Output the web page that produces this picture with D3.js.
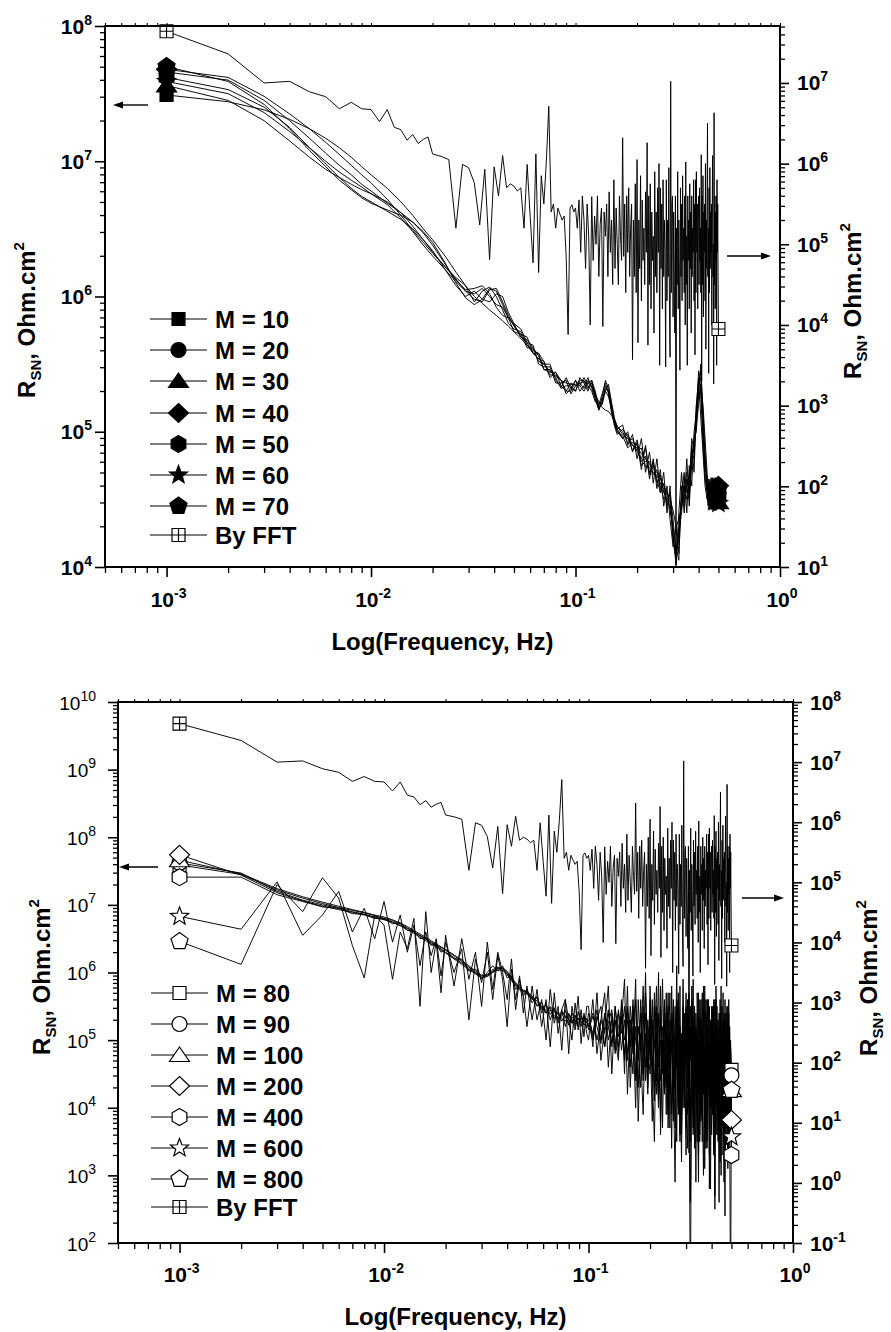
<!DOCTYPE html>
<html>
<head>
<meta charset="utf-8">
<script src="https://cdn.jsdelivr.net/npm/d3@7"></script>
<style>
  body { margin: 0; background: #fff; }
  svg { display: block; }
  text { font-family: "Liberation Sans", Arial, Helvetica, sans-serif; fill: #000; }
</style>
</head>
<body>
<svg id="chart" width="891" height="1332"></svg>
<script>
// frequencies in mHz, resistances given as log10(R_SN in Ohm.cm2)

// ---- upper panel (M = 10 ... 70) ----
var topK = [1,2,3,4,5,6,7,8,9,10,
  12,14,16,18,20,23,26,29,32,35,
  38,41,44,47,50,54,58,62,66,70,
  75,80,85,90,95,100,105,110,115,120,
  125,130,135,140,145,150,155,160,170,180,
  190,200,210,220,230,240,250,260,270,280,
  290,300,310,320,330,340,350,360,370,380,
  390,400,410,420,430,440,445,450,455,460,
  465,470,475,480,485,490,495,500];

var topM10 = [7.49,7.44,7.38,7.31,7.24,7.17,7.1,7.03,6.96,6.9,6.8,6.7,6.6,6.5,6.42,6.3,6.18,6.08,
  6.0,5.95,5.9,5.86,5.82,5.78,5.74,5.69,5.64,5.58,5.54,5.5,5.45,5.41,5.38,5.36,5.35,5.35,5.36,5.37,5.36,5.33,5.28,5.22,5.18,5.16,5.15,5.12,5.08,5.04,
  4.98,4.95,4.9,4.88,4.84,4.8,4.76,4.72,4.7,4.65,4.6,4.55,4.5,4.42,4.3,4.35,4.45,4.52,4.6,4.68,4.8,4.92,5.05,5.2,5.35,5.2,4.95,4.7,
  4.55,4.62,4.48,4.6,4.45,4.58,4.5,4.62,4.42,4.55,4.6,4.5];
var topM20 = [7.66,7.6,7.45,7.3,7.17,7.06,6.97,6.9,6.83,6.78,6.69,6.62,6.55,6.47,6.38,6.24,6.12,6.05,
  6.06,6.08,6.02,5.92,5.86,5.84,5.79,5.7,5.68,5.62,5.52,5.5,5.5,5.38,5.33,5.4,5.32,5.3,5.4,5.36,5.3,5.38,5.3,5.16,5.22,5.34,5.3,5.2,5.08,5.02,
  5.05,4.9,4.98,4.8,4.95,4.7,4.85,4.62,4.8,4.55,4.7,4.4,4.6,4.2,4.05,4.4,4.7,4.45,4.8,4.5,4.9,4.7,5.2,5.4,5.1,4.85,4.6,4.5,
  4.62,4.5,4.64,4.45,4.6,4.48,4.65,4.42,4.58,4.5,4.62,4.55];
var topM30 = [7.56,7.45,7.3,7.15,7.03,6.94,6.88,6.83,6.79,6.76,6.7,6.62,6.52,6.42,6.33,6.22,6.14,6.08,
  5.96,6.04,6.07,6.0,5.9,5.8,5.76,5.74,5.64,5.6,5.58,5.46,5.44,5.44,5.34,5.3,5.36,5.34,5.34,5.4,5.34,5.3,5.22,5.2,5.28,5.36,5.28,5.14,5.06,5.0,
  4.95,5.0,4.85,4.92,4.72,4.9,4.65,4.8,4.58,4.72,4.45,4.6,4.35,4.15,4.3,4.1,4.55,4.7,4.4,4.75,4.6,5.0,5.15,5.45,5.3,5.0,4.7,4.55,
  4.45,4.6,4.5,4.66,4.42,4.62,4.47,4.58,4.66,4.44,4.52,4.48];
var topM40 = [7.68,7.62,7.48,7.35,7.24,7.14,7.05,6.97,6.9,6.84,6.72,6.6,6.49,6.4,6.32,6.22,6.13,6.04,
  5.98,5.96,6.05,6.06,5.96,5.86,5.78,5.72,5.7,5.58,5.54,5.52,5.42,5.42,5.38,5.28,5.32,5.38,5.3,5.34,5.4,5.32,5.24,5.18,5.2,5.3,5.35,5.22,5.1,5.04,
  5.0,4.92,4.95,4.85,4.8,4.88,4.7,4.75,4.65,4.55,4.62,4.48,4.5,4.25,4.02,4.3,4.5,4.6,4.5,4.65,4.85,4.8,5.1,5.3,5.5,5.1,4.8,4.6,
  4.65,4.48,4.6,4.5,4.66,4.45,4.6,4.5,4.42,4.64,4.56,4.6];
var topM50 = [7.62,7.53,7.4,7.25,7.1,6.98,6.88,6.8,6.74,6.7,6.63,6.57,6.5,6.42,6.34,6.2,6.08,6.0,
  6.04,5.98,5.96,6.02,6.0,5.88,5.8,5.7,5.66,5.64,5.5,5.48,5.48,5.36,5.36,5.38,5.28,5.34,5.36,5.32,5.38,5.34,5.26,5.2,5.24,5.3,5.26,5.18,5.06,5.0,
  4.97,4.88,4.92,4.9,4.75,4.78,4.78,4.68,4.72,4.6,4.5,4.55,4.42,4.3,4.15,4.05,4.6,4.4,4.65,4.55,4.75,4.95,5.0,5.35,5.4,5.05,4.75,4.65,
  4.5,4.65,4.44,4.58,4.52,4.66,4.43,4.6,4.5,4.56,4.45,4.52];
var topM60 = [7.59,7.5,7.36,7.22,7.1,7.0,6.92,6.86,6.81,6.76,6.68,6.58,6.48,6.38,6.3,6.2,6.11,6.04,
  6.02,6.06,6.0,5.94,5.92,5.84,5.74,5.72,5.62,5.62,5.56,5.46,5.46,5.4,5.32,5.34,5.34,5.3,5.38,5.38,5.32,5.36,5.28,5.18,5.22,5.32,5.3,5.16,5.04,4.98,
  5.02,4.96,4.86,4.94,4.78,4.82,4.68,4.78,4.62,4.68,4.55,4.5,4.48,4.2,4.08,4.25,4.4,4.65,4.55,4.6,4.95,4.85,5.2,5.25,5.3,4.9,4.65,4.55,
  4.58,4.42,4.62,4.46,4.56,4.5,4.63,4.45,4.6,4.42,4.58,4.47];
var topM70 = [7.7,7.59,7.42,7.24,7.08,6.96,6.86,6.79,6.73,6.69,6.64,6.6,6.55,6.48,6.4,6.25,6.1,5.99,
  5.94,5.98,6.06,6.04,5.94,5.84,5.8,5.76,5.66,5.58,5.58,5.52,5.4,5.44,5.38,5.3,5.3,5.38,5.34,5.3,5.36,5.38,5.24,5.16,5.26,5.38,5.32,5.18,5.08,5.02,
  4.95,4.98,4.9,4.86,4.88,4.74,4.74,4.7,4.68,4.62,4.58,4.45,4.55,4.35,4.1,4.2,4.5,4.55,4.7,4.45,4.8,4.9,5.1,5.35,5.45,5.15,4.85,4.62,
  4.48,4.58,4.52,4.62,4.47,4.55,4.58,4.66,4.48,4.6,4.5,4.58];

var topLabels = ['M = 10', 'M = 20', 'M = 30', 'M = 40', 'M = 50', 'M = 60', 'M = 70', 'By FFT'];

// ---- spectrum obtained by FFT (right axes) ----
var fftK = [1,2,3,4,5,6,7,8,9,10,11,12,13,14,15,16,17,18,19,20,
  22,24,26,28,30,32,34,36,38,40,42,44,46,48,50,52,54,56,58,60,
  62,64,66,68,70,72,74,76,78,80,82,84,86,88,90,92,94,96,98,100,
  102,104,106,108,110,112,114,116,118,120,122,124,126,128,130,132,134,136,138,140,
  142,144,146,148,150,152,154,156,158,160,162,164,166,168,170,172,174,176,178,180,
  182,184,186,188,190,192,194,196,198,200,202,204,206,208,210,212,214,216,218,220,
  222,224,226,228,230,232,234,236,238,240,242,244,246,248,250,252,254,256,258,260,
  262,264,266,268,270,272,274,276,278,280,282,284,286,288,290,292,294,296,298,300,
  302,304,306,308,310,312,314,316,318,320,322,324,326,328,330,332,334,336,338,340,
  342,344,346,348,350,352,354,356,358,360,362,364,366,368,370,372,374,376,378,380,
  382,384,386,388,390,392,394,396,398,400,402,404,406,408,410,412,414,416,418,420,
  422,424,426,428,430,432,434,436,438,440,442,444,446,448,450,452,454,456,458,460,
  462,464,466,468,470,472,474,476,478,480,482,484,486,488,490,492,494,496,498,500];
var fftVal = [7.64,7.36,7.0,7.02,6.89,6.83,6.68,6.76,6.68,6.67,6.52,6.67,6.45,6.42,6.29,6.36,6.25,6.3,6.33,6.12,
  6.09,6.05,5.2,5.99,5.95,5.76,5.24,5.93,4.81,5.96,5.6,6.1,5.7,5.75,5.72,5.66,5.7,5.2,5.99,5.35,
  4.77,6.12,4.65,5.85,5.5,6.03,6.71,5.4,5.5,5.2,5.45,5.37,5.3,5.35,4.85,3.88,5.45,5.49,5.4,5.45,
  5.2,5.55,4.9,5.6,5.3,4.7,5.5,5.1,4.0,5.59,4.8,5.35,5.0,5.6,4.6,5.25,5.45,3.98,5.4,5.1,
  5.5,4.6,5.65,4.9,5.3,4.5,5.8,4.7,5.45,5.0,4.5,5.6,5.1,4.8,6.32,4.85,5.5,4.4,5.6,4.9,
  5.7,4.6,5.2,5.5,3.57,5.3,4.6,5.75,4.4,6.05,3.78,5.3,4.7,5.85,4.3,5.55,4.8,5.2,4.5,5.65,
  4.9,6.26,3.75,5.6,4.5,5.75,4.2,5.4,4.8,5.1,3.9,5.9,4.6,5.4,4.4,5.7,4.9,6.0,3.5,5.7,
  4.7,5.5,4.2,5.8,4.6,5.3,4.9,3.48,5.8,4.3,5.3,4.6,5.95,4.2,3.6,7.02,4.4,5.5,5.6,4.1,
  5.4,4.5,3.9,5.6,0.5,5.2,4.5,5.9,4.2,5.3,4.6,3.44,5.7,4.6,5.5,4.3,5.85,4.8,5.2,4.4,
  5.6,4.0,6.02,4.5,5.1,3.5,5.6,4.8,5.3,4.2,5.75,4.7,5.4,3.9,5.6,4.6,5.2,4.9,5.8,4.3,
  5.5,3.63,5.8,4.4,5.9,4.9,5.5,4.2,5.3,5.6,4.5,5.7,4.8,5.2,4.4,6.11,3.3,5.6,4.5,5.85,
  4.1,5.4,4.9,5.5,4.3,6.0,3.7,5.3,4.7,5.6,6.5,4.6,5.2,3.4,5.7,4.4,5.95,4.7,5.4,4.9,
  5.5,4.0,5.3,6.1,4.6,5.0,3.27,6.63,4.5,5.6,4.2,5.4,4.8,5.6,3.5,5.8,4.9,5.5,4.6,3.95];

// ---- lower panel (M = 80 ... 800) ----
var botK = [1,2,3,4,5,6,7,8,9,10,11,12,13,14,15,16,17,18,19,20,
  22,24,26,28,30,32,34,36,38,40,42,44,46,48,50,
  53,56,59,62,65,68,71,74,77,80,83,86,89,92,95,98,
  100,105,110,115,120,125,130,135,140,145,150,155,160,165,170,175,180,185,190,195,
  200,205,210,215,220,225,230,235,240,245,250,255,260,265,270,275,280,285,290,295,
  300,305,310,315,320,325,330,335,340,345,350,355,360,365,370,375,380,385,390,395,
  400,405,410,415,420,425,430,435,440,445,450,455,460,465,470,475,480,485,490,495,500];

var botM80 = [7.59,7.45,7.22,7.1,7.02,6.96,6.92,6.88,6.84,6.8,6.77,6.72,6.66,6.6,6.55,6.5,6.45,6.41,6.37,6.33,
  6.25,6.16,6.08,6.0,5.95,5.97,6.04,6.08,6.05,5.98,5.9,5.82,5.76,5.72,5.7,
  5.62,5.58,5.45,5.52,5.38,5.46,5.3,5.42,5.35,5.25,5.4,5.28,5.33,5.2,5.36,5.3,
  5.3,5.1,5.45,5.0,5.35,5.2,4.9,5.5,5.05,5.3,4.8,5.4,4.9,5.6,4.5,5.2,4.95,5.5,4.4,5.3,
  4.7,5.6,4.3,5.1,4.6,5.5,4.8,4.2,5.4,4.6,5.7,3.9,5.1,4.6,5.5,4.0,5.2,4.4,5.9,4.5,
  3.7,5.3,4.8,5.5,4.1,5.0,3.6,5.4,4.6,5.7,4.2,4.9,3.5,5.5,4.4,5.1,3.9,5.6,4.6,4.0,
  5.3,4.7,3.4,5.6,4.3,5.0,3.8,5.4,4.5,5.8,4.1,4.8,3.6,5.2,4.6,5.5,3.9,5.0,4.4,4.9,4.56];
var botM90 = [7.62,7.47,7.2,7.07,7.0,6.95,6.9,6.86,6.82,6.79,6.75,6.7,6.65,6.6,6.54,6.49,6.44,6.39,6.35,6.3,
  6.22,6.14,6.06,5.99,5.93,5.95,6.02,6.07,6.06,6.0,5.91,5.83,5.77,5.73,5.71,
  5.66,5.52,5.5,5.44,5.48,5.35,5.42,5.32,5.28,5.38,5.25,5.34,5.3,5.36,5.22,5.28,
  5.2,5.4,5.0,5.3,5.1,5.45,4.95,5.25,5.4,4.85,5.3,4.7,5.5,4.9,5.2,4.3,5.6,4.8,5.1,4.6,
  5.4,4.4,5.7,4.8,4.0,5.3,4.6,5.5,4.3,5.0,4.2,5.4,4.7,3.7,5.6,4.5,5.0,3.8,5.3,4.8,
  5.5,4.3,4.9,3.5,5.8,4.6,4.2,5.2,3.9,5.0,4.7,5.6,4.0,5.1,3.7,5.4,4.5,4.9,3.3,5.2,
  4.6,5.5,4.1,5.0,3.6,5.3,4.8,4.2,5.6,4.4,5.1,3.8,5.4,4.5,4.9,3.5,5.3,4.7,4.2,5.0,4.48];
var botM100 = [7.66,7.46,7.24,7.12,7.04,6.98,6.93,6.89,6.85,6.82,6.78,6.73,6.68,6.62,6.57,6.52,6.47,6.42,6.38,6.34,
  6.26,6.18,6.1,6.02,5.96,5.96,6.01,6.06,6.07,6.02,5.93,5.85,5.78,5.74,5.72,
  5.6,5.62,5.48,5.4,5.5,5.42,5.33,5.36,5.44,5.3,5.27,5.37,5.25,5.32,5.34,5.26,
  5.25,5.0,5.35,5.15,4.9,5.4,5.1,5.3,4.8,5.5,5.0,5.3,4.6,5.5,5.0,4.7,5.4,4.5,5.7,4.9,
  4.5,5.2,4.9,5.8,4.2,5.0,4.5,5.6,4.7,3.9,5.3,4.8,5.5,4.2,4.9,5.7,3.6,5.0,4.4,5.4,
  4.6,3.4,5.1,4.7,5.6,4.0,5.3,4.4,5.0,3.3,5.3,4.6,5.7,4.2,4.8,3.6,5.0,4.4,5.5,4.1,
  4.9,3.9,5.5,4.5,4.0,5.2,4.7,3.5,5.4,4.6,4.3,5.3,4.0,4.8,5.4,3.7,4.6,5.1,3.9,4.7,4.26];
var botM200 = [7.74,7.44,7.18,7.06,6.98,6.93,6.89,6.85,6.81,6.78,6.74,6.69,6.63,6.58,6.52,6.47,6.42,6.38,6.33,6.29,
  6.2,6.12,6.04,5.98,5.92,5.94,6.0,6.04,6.03,5.97,5.88,5.8,5.74,5.7,5.68,
  5.64,5.5,5.56,5.4,5.45,5.32,5.4,5.28,5.36,5.22,5.34,5.3,5.2,5.33,5.27,5.32,
  5.15,5.35,5.2,4.95,5.4,5.0,5.3,4.85,5.45,5.1,5.5,4.8,5.1,5.4,4.4,5.2,4.9,5.8,4.6,5.0,
  4.9,5.3,4.1,5.5,4.8,4.4,5.9,4.5,5.1,4.3,4.9,5.4,4.1,5.0,3.5,5.6,4.7,5.1,4.0,5.2,
  4.8,5.4,4.0,5.2,4.5,3.6,5.5,4.3,5.1,4.7,3.6,5.2,4.4,5.0,4.7,3.4,5.6,4.3,4.8,5.3,
  4.0,4.8,5.6,3.7,4.9,4.4,5.3,3.6,4.8,5.1,4.6,4.0,5.2,3.4,4.9,4.5,5.5,3.8,4.7,4.2,3.82];
var botM400 = [7.41,7.41,7.15,7.05,6.97,6.95,6.87,6.86,6.8,6.8,6.72,6.74,6.62,6.62,6.5,6.52,6.4,6.43,6.3,6.34,
  6.2,6.2,6.02,6.05,5.9,6.0,6.1,6.02,6.1,5.92,5.95,5.75,5.82,5.65,5.75,
  5.55,5.65,5.4,5.55,5.3,5.48,5.25,5.45,5.2,5.4,5.3,5.15,5.42,5.25,5.35,5.18,
  5.4,5.05,5.3,5.5,4.9,5.25,5.45,4.8,5.2,5.35,4.7,5.5,5.0,4.5,5.6,4.9,4.3,5.3,5.0,4.2,
  5.6,4.6,5.0,4.2,5.4,3.8,5.2,4.9,4.4,5.7,4.4,5.0,3.8,5.5,4.6,5.3,3.5,4.9,5.1,4.0,
  5.2,4.6,5.7,3.8,4.9,5.3,4.1,4.7,3.5,5.4,4.4,3.9,5.1,4.8,4.0,5.6,3.5,5.1,4.4,4.9,
  5.0,4.3,3.3,5.1,4.6,5.5,4.1,4.9,3.2,5.0,3.7,5.0,4.4,5.6,3.9,4.8,4.2,3.3,5.2,4.5,3.3];
var botM600 = [6.83,6.64,7.34,6.55,6.85,7.2,6.6,6.95,6.5,7.05,6.45,6.85,6.3,6.7,6.1,6.6,6.25,6.5,5.95,6.45,
  6.0,6.35,5.3,6.2,5.85,6.3,5.6,6.25,5.9,5.2,6.05,5.6,5.95,5.4,5.8,
  5.3,5.75,5.2,5.6,4.9,5.7,5.1,5.45,5.6,4.8,5.5,5.2,5.65,4.95,5.4,5.1,
  5.0,5.6,4.8,5.3,5.7,4.6,5.4,5.0,4.7,5.6,4.5,5.8,4.3,5.2,4.0,5.6,4.8,3.9,5.4,4.6,
  5.1,3.8,5.5,4.4,6.0,3.6,5.0,4.3,5.7,3.7,5.0,3.4,5.6,4.3,6.1,3.9,4.8,3.2,5.5,4.1,
  5.7,3.9,5.0,2.6,4.8,5.9,3.4,5.0,4.2,2.9,5.6,3.8,4.7,5.8,3.1,4.9,4.0,5.6,2.8,4.6,
  3.6,5.4,4.2,2.7,5.8,4.4,3.5,5.2,4.0,3.0,5.5,4.1,2.9,5.3,3.8,5.0,3.2,5.6,3.9,4.5,3.57];
var botM800 = [6.46,6.12,7.3,6.9,7.4,7.1,6.4,5.92,6.85,6.7,5.9,6.6,6.35,6.8,5.5,6.9,6.0,6.45,5.7,6.55,
  5.8,6.5,5.9,6.3,5.5,6.45,5.75,6.3,6.0,5.6,6.2,5.45,5.9,5.65,5.2,
  5.8,5.3,5.6,5.0,5.75,5.25,5.5,4.85,5.6,5.3,5.0,5.55,5.15,5.45,5.05,5.5,
  5.5,4.9,5.7,4.7,5.2,5.8,4.5,5.5,4.9,5.3,5.9,4.2,5.3,4.8,5.9,3.8,5.1,4.4,6.0,4.3,
  5.8,4.5,3.5,5.4,4.1,5.8,3.7,5.3,3.9,5.5,3.7,5.8,4.5,2.9,5.3,4.0,5.8,3.6,5.1,4.6,
  3.3,5.6,4.4,1.0,5.4,3.7,5.2,2.9,5.7,4.4,3.5,5.3,4.3,3.0,5.8,4.1,3.4,5.2,4.6,2.8,
  5.5,3.9,4.6,2.5,5.6,3.6,4.8,2.6,5.2,4.2,3.3,5.7,4.0,2.4,5.0,4.5,3.1,5.4,3.8,1.0,4.26];

var botLabels = ['M = 80', 'M = 90', 'M = 100', 'M = 200', 'M = 400', 'M = 600', 'M = 800', 'By FFT'];

// tick label exponents
var xTickExp = [-3, -2, -1, 0];
var topLeftExp = [4, 5, 6, 7, 8];
var topRightExp = [1, 2, 3, 4, 5, 6, 7];
var botLeftExp = [2, 3, 4, 5, 6, 7, 8, 9, 10];
var botRightExp = [-1, 0, 1, 2, 3, 4, 5, 6, 7, 8];

var symbols = ['square', 'circle', 'triangle', 'diamond', 'hexagon', 'star', 'pentagon', 'fft'];

var panels = [
  { left: 105, right: 780, top: 26, bottom: 567,
    yLeft: [1e4, 1e8], yRight: [10, 5.08e7],
    leftExp: topLeftExp, rightExp: topRightExp, leftBold: true,
    k: topK, series: [topM10, topM20, topM30, topM40, topM50, topM60, topM70],
    labels: topLabels, filled: true,
    legendX: 150, legendRows: [319, 350, 381, 413, 444, 475, 506, 535],
    arrowL: [148, 113, 105], arrowR: [727, 771, 256],
    titleL: [35, 320], titleR: [861, 301], xTitleY: 650, xLabelY: 607,
    leftLabelX: 92, rightLabelX: 797 },
  { left: 118, right: 793, top: 702, bottom: 1243,
    yLeft: [1e2, 1e10], yRight: [0.1, 1e8],
    leftExp: botLeftExp, rightExp: botRightExp, leftBold: false,
    k: botK, series: [botM80, botM90, botM100, botM200, botM400, botM600, botM800],
    labels: botLabels, filled: false,
    legendX: 151, legendRows: [993, 1024, 1055, 1086, 1117, 1148, 1179, 1207],
    arrowL: [158, 119, 867], arrowR: [742, 784, 898],
    titleL: [50, 977], titleR: [877, 978], xTitleY: 1325, xLabelY: 1282,
    leftLabelX: 96, rightLabelX: 810 }
];

var svg = d3.select('#chart');

function symbolPath(type) {
  function ring(n, r, r2) {
    var m = r2 ? 2 * n : n, pts = [];
    for (var i = 0; i < m; i++) {
      var a = -Math.PI / 2 + i * 2 * Math.PI / m;
      var rr = (r2 && i % 2) ? r2 : r;
      pts.push((rr * Math.cos(a)).toFixed(2) + ',' + (rr * Math.sin(a)).toFixed(2));
    }
    return 'M' + pts.join('L') + 'Z';
  }
  switch (type) {
    case 'square': return 'M-6.5,-6.5H6.5V6.5H-6.5Z';
    case 'circle': return d3.symbol(d3.symbolCircle, Math.PI * 56)();
    case 'triangle': return 'M0,-8L10,6.5L-10,6.5Z';
    case 'diamond': return 'M0,-9.5L10,0L0,9.5L-10,0Z';
    case 'hexagon': return ring(6, 8.5);
    case 'star': return ring(5, 9.5, 4);
    case 'pentagon': return ring(5, 9);
    default: return 'M-6.5,-6.5H6.5V6.5H-6.5ZM0,-6.5V6.5M-6.5,0H6.5';
  }
}

function minorTicks(lo, hi) {
  var out = [];
  for (var e = lo; e < hi; e++) {
    for (var m = 2; m <= 9; m++) out.push(m * Math.pow(10, e));
  }
  return out;
}

function tickAxis(g, axisFn, scale, values, size, transform, width) {
  g.append('g').attr('transform', transform)
    .call(axisFn(scale).tickValues(values).tickSize(size).tickFormat(''))
    .call(function (a) { a.select('.domain').remove(); })
    .selectAll('line').attr('stroke', '#000').attr('stroke-width', width);
}

function powLabel(g, x, y, exp, anchor, bold) {
  var t = g.append('text')
    .attr('x', x).attr('y', y)
    .attr('text-anchor', anchor)
    .style('font-size', bold ? '21px' : '19px')
    .style('font-weight', bold ? 'bold' : 'normal');
  t.append('tspan').text('10');
  t.append('tspan').attr('dy', -9).style('font-size', '14px').text(exp);
}

function yTitle(g, x, y) {
  var t = g.append('text')
    .attr('transform', 'translate(' + x + ',' + y + ') rotate(-90)')
    .attr('text-anchor', 'middle')
    .style('font-size', '24px').style('font-weight', 'bold');
  t.append('tspan').text('R');
  t.append('tspan').attr('dy', 6).style('font-size', '15px').text('SN');
  t.append('tspan').attr('dy', -6).text(', Ohm.cm');
  t.append('tspan').attr('dy', -11).style('font-size', '15px').text('2');
}

function arrow(g, x0, x1, y) {
  var dir = x1 > x0 ? 1 : -1;
  g.append('line').attr('x1', x0).attr('x2', x1 - dir * 6).attr('y1', y).attr('y2', y)
    .attr('stroke', '#000').attr('stroke-width', 1.4);
  g.append('path')
    .attr('d', 'M' + x1 + ',' + y + 'L' + (x1 - dir * 10) + ',' + (y - 3.5) + 'L' + (x1 - dir * 10) + ',' + (y + 3.5) + 'Z')
    .attr('fill', '#000');
}

panels.forEach(function (p, pi) {
  var x = d3.scaleLog().domain([5e-4, 1]).range([p.left, p.right]);
  var yl = d3.scaleLog().domain(p.yLeft).range([p.bottom, p.top]);
  var yr = d3.scaleLog().domain(p.yRight).range([p.bottom, p.top]);
  var g = svg.append('g');

  svg.append('clipPath').attr('id', 'clip' + pi).append('rect')
    .attr('x', p.left).attr('y', p.top)
    .attr('width', p.right - p.left).attr('height', p.bottom - p.top);

  var plot = g.append('g').attr('clip-path', 'url(#clip' + pi + ')');
  var lineL = d3.line().x(function (d) { return x(d[0] / 1000); })
    .y(function (d) { return yl(Math.pow(10, d[1])); });
  var lineR = d3.line().x(function (d) { return x(d[0] / 1000); })
    .y(function (d) { return yr(Math.pow(10, d[1])); });

  var sets = p.series.map(function (vals) { return d3.zip(p.k, vals); });
  var fft = d3.zip(fftK, fftVal);

  plot.selectAll('path.m').data(sets).enter().append('path')
    .attr('class', 'm').attr('d', lineL)
    .attr('fill', 'none').attr('stroke', '#000').attr('stroke-width', 0.95);
  plot.append('path').datum(fft).attr('d', lineR)
    .attr('fill', 'none').attr('stroke', '#000').attr('stroke-width', 0.95);

  // symbols only at the first and last frequency
  sets.forEach(function (s, i) {
    [s[0], s[s.length - 1]].forEach(function (d) {
      g.append('path').attr('d', symbolPath(symbols[i]))
        .attr('transform', 'translate(' + x(d[0] / 1000) + ',' + yl(Math.pow(10, d[1])) + ')')
        .attr('fill', p.filled ? '#000' : '#fff').attr('stroke', '#000').attr('stroke-width', 1.2);
    });
  });
  [fft[0], fft[fft.length - 1]].forEach(function (d) {
    g.append('path').attr('d', symbolPath('fft'))
      .attr('transform', 'translate(' + x(d[0] / 1000) + ',' + yr(Math.pow(10, d[1])) + ')')
      .attr('fill', '#fff').attr('stroke', '#000').attr('stroke-width', 1.1);
  });

  // axes and frame
  var xMajor = xTickExp.map(function (e) { return Math.pow(10, e); });
  var xMinor = [5e-4, 6e-4, 7e-4, 8e-4, 9e-4].concat(minorTicks(-3, 0));
  tickAxis(g, d3.axisBottom, x, xMajor, 10, 'translate(0,' + p.bottom + ')', 1.6);
  tickAxis(g, d3.axisBottom, x, xMinor, 6, 'translate(0,' + p.bottom + ')', 1.3);
  tickAxis(g, d3.axisTop, x, xMajor.concat(xMinor), 3, 'translate(0,' + p.top + ')', 1.1);

  var lMajor = p.leftExp.map(function (e) { return Math.pow(10, e); });
  var lMinor = minorTicks(p.leftExp[0], p.leftExp[p.leftExp.length - 1]);
  tickAxis(g, d3.axisLeft, yl, lMajor, 10, 'translate(' + p.left + ',0)', 1.6);
  tickAxis(g, d3.axisLeft, yl, lMinor, 5, 'translate(' + p.left + ',0)', 1.3);

  var rMajor = p.rightExp.map(function (e) { return Math.pow(10, e); });
  var rMinor = minorTicks(p.rightExp[0], p.rightExp[p.rightExp.length - 1] + 1)
    .filter(function (v) { return v <= p.yRight[1]; });
  tickAxis(g, d3.axisRight, yr, rMajor, 9, 'translate(' + p.right + ',0)', 1.6);
  tickAxis(g, d3.axisRight, yr, rMinor, 5, 'translate(' + p.right + ',0)', 1.3);

  g.append('rect').attr('x', p.left).attr('y', p.top)
    .attr('width', p.right - p.left).attr('height', p.bottom - p.top)
    .attr('fill', 'none').attr('stroke', '#000').attr('stroke-width', 2);

  // tick labels
  xTickExp.forEach(function (e) {
    powLabel(g, x(Math.pow(10, e)) + 2, p.xLabelY, e, 'middle', true);
  });
  p.leftExp.forEach(function (e) {
    powLabel(g, p.leftLabelX, yl(Math.pow(10, e)) + 7.5, e, 'end', p.leftBold);
  });
  p.rightExp.forEach(function (e) {
    powLabel(g, p.rightLabelX, yr(Math.pow(10, e)) + 7.5, e, 'start', true);
  });

  // titles
  yTitle(g, p.titleL[0], p.titleL[1]);
  yTitle(g, p.titleR[0], p.titleR[1]);
  g.append('text').attr('x', (p.left + p.right) / 2).attr('y', p.xTitleY)
    .attr('text-anchor', 'middle')
    .style('font-size', '24px').style('font-weight', 'bold')
    .text('Log(Frequency, Hz)');

  arrow(g, p.arrowL[0], p.arrowL[1], p.arrowL[2]);
  arrow(g, p.arrowR[0], p.arrowR[1], p.arrowR[2]);

  // legend
  p.labels.forEach(function (lab, i) {
    var cy = p.legendRows[i], lx = p.legendX;
    var isFft = symbols[i] === 'fft';
    g.append('line').attr('x1', lx).attr('x2', lx + 57).attr('y1', cy).attr('y2', cy)
      .attr('stroke', '#000').attr('stroke-width', 1.1);
    g.append('path').attr('d', symbolPath(symbols[i]))
      .attr('transform', 'translate(' + (lx + 28.5) + ',' + cy + ')')
      .attr('fill', (p.filled && !isFft) ? '#000' : '#fff')
      .attr('stroke', '#000').attr('stroke-width', 1.2);
    g.append('text').attr('x', lx + 65).attr('y', cy + 8.6)
      .style('font-size', '24px').style('font-weight', 'bold')
      .text(lab);
  });
});
</script>
</body>
</html>
